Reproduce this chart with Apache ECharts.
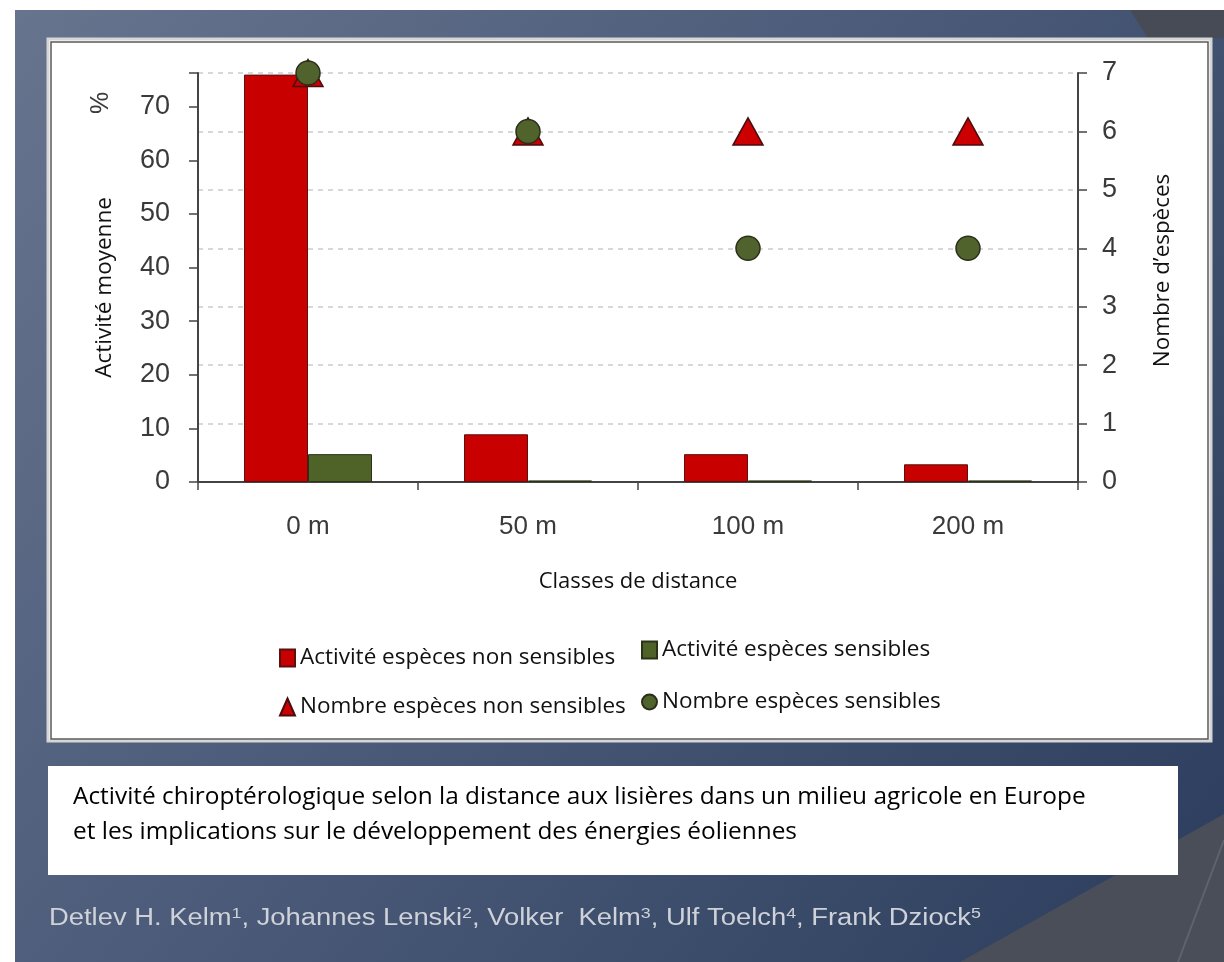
<!DOCTYPE html>
<html>
<head>
<meta charset="utf-8">
<script src="https://cdn.jsdelivr.net/npm/echarts@6/dist/echarts.min.js"></script>
<style>
html,body{margin:0;padding:0;background:#fff;}
#chart{width:1224px;height:962px;}
</style>
</head>
<body>
<div id="chart"></div>
<script>
// ---- data ----
const categories = ['0 m', '50 m', '100 m', '200 m'];
const activiteNonSensibles = [76, 8.9, 5.2, 3.3];
const activiteSensibles = [5.2, 0.3, 0.3, 0.3];
const nombreNonSensibles = [7, 6, 6, 6];
const nombreSensibles = [7, 6, 4, 4];
const seriesNames = ['Activité espèces non sensibles', 'Activité espèces sensibles', 'Nombre espèces non sensibles', 'Nombre espèces sensibles'];
const leftAxisMax = 76.3;
const rightAxisMax = 7;
const captionLines = ['Activité chiroptérologique selon la distance aux lisières dans un milieu agricole en Europe', 'et les implications sur le développement des énergies éoliennes'];
const authors = 'Detlev H. Kelm{s|1}, Johannes Lenski{s|2}, Volker  Kelm{s|3}, Ulf Toelch{s|4}, Frank Dziock{s|5}';

const chart = echarts.init(document.getElementById('chart'), null, {renderer: 'canvas'});

const labelFont = 'Liberation Sans, Arial, sans-serif';
const humanFont = 'Open Sans, Noto Sans, sans-serif';

const legendCommon = {
  padding: 0, itemWidth: 15, itemHeight: 17, itemGap: 0, selectedMode: false,
  textStyle: {fontFamily: humanFont, fontSize: 22.5, color: '#111', lineHeight: 26}
};

const option = {
  animation: false,
  backgroundColor: '#ffffff',
  graphic: {elements: [
    {type: 'rect', z: -30, silent: true, shape: {x: 15, y: 10, width: 1209, height: 952},
      style: {fill: new echarts.graphic.LinearGradient(0, 0, 1, 1, [
        {offset: 0, color: '#67748e'}, {offset: 0.45, color: '#4b5b79'}, {offset: 1, color: '#2c3c5c'}])}},
    {type: 'polygon', z: -29, silent: true, shape: {points: [[1130, 10], [1224, 10], [1224, 38], [1148, 38]]},
      style: {fill: '#474b55'}},
    {type: 'polygon', z: -29, silent: true, shape: {points: [[1224, 814], [1160, 850], [1060, 906], [960, 962], [1224, 962]]},
      style: {fill: '#4a4e58'}},
    {type: 'line', z: -28, silent: true, shape: {x1: 1224, y1: 840, x2: 1178, y2: 962},
      style: {stroke: '#5e636d', lineWidth: 2}},
    // chart panel
    {type: 'rect', z: -25, silent: true, shape: {x: 48, y: 39, width: 1163, height: 702},
      style: {fill: '#ffffff', stroke: '#d6d6d6', lineWidth: 3}},
    {type: 'rect', z: -24, silent: true, shape: {x: 51, y: 42, width: 1157, height: 697},
      style: {fill: '#ffffff', stroke: '#5a5a5a', lineWidth: 1.5}},
    // % sign
    {type: 'text', z: 5, silent: true, x: 101, y: 103, rotation: Math.PI / 2,
      style: {text: '%', font: '25px ' + labelFont, fill: '#3a3a3a', align: 'center', verticalAlign: 'middle', textAlign: 'center', textVerticalAlign: 'middle'}},
    // caption box
    {type: 'rect', z: -20, silent: true, shape: {x: 48, y: 766, width: 1130, height: 109},
      style: {fill: '#ffffff'}},
    {type: 'text', z: 5, silent: true, x: 73, y: 797,
      style: {text: captionLines[0], font: '24.4px ' + humanFont, fill: '#000', align: 'left', verticalAlign: 'middle', textAlign: 'left', textVerticalAlign: 'middle'}},
    {type: 'text', z: 5, silent: true, x: 73, y: 832,
      style: {text: captionLines[1], font: '24.4px ' + humanFont, fill: '#000', align: 'left', verticalAlign: 'middle', textAlign: 'left', textVerticalAlign: 'middle'}},
    // authors
    {type: 'text', z: 5, silent: true, x: 49, y: 919, scaleX: 1.19,
      style: {text: authors, fontFamily: labelFont, fontSize: 23, fill: '#cfd2d8', align: 'left', verticalAlign: 'middle', textAlign: 'left', textVerticalAlign: 'middle',
        rich: {s: {fontFamily: labelFont, fontSize: 15, fill: '#cfd2d8', verticalAlign: 'top', padding: [0, 0, 10, 0]}}}}
  ]},
  legend: [
    Object.assign({}, legendCommon, {data: [{name: seriesNames[0], icon: 'rect'}], left: 279, top: 645}),
    Object.assign({}, legendCommon, {data: [{name: seriesNames[1], icon: 'rect'}], left: 641, top: 637}),
    Object.assign({}, legendCommon, {data: [{name: seriesNames[2], icon: 'triangle'}], left: 279, top: 694}),
    Object.assign({}, legendCommon, {data: [{name: seriesNames[3], icon: 'circle'}], left: 641, top: 689})
  ],
  grid: {left: 198, right: 146, top: 73, bottom: 480, containLabel: false},
  xAxis: {
    type: 'category', data: categories, boundaryGap: true,
    axisLine: {show: true, lineStyle: {color: '#444', width: 2}},
    axisTick: {show: true, length: 8, lineStyle: {color: '#444', width: 1.5}},
    axisLabel: {fontFamily: labelFont, fontSize: 26, color: '#3a3a3a', margin: 32},
    name: 'Classes de distance', nameLocation: 'middle', nameGap: 89,
    nameTextStyle: {fontFamily: humanFont, fontSize: 22, color: '#111'}
  },
  yAxis: [
    {
      type: 'value', position: 'left', min: 0, max: leftAxisMax, interval: 10,
      axisLine: {show: true, lineStyle: {color: '#444', width: 2}},
      axisTick: {show: true, length: 9, lineStyle: {color: '#444', width: 1.5}},
      axisLabel: {fontFamily: labelFont, fontSize: 27, color: '#3a3a3a', margin: 28,
        formatter: function (v) { return Math.abs(v % 10) < 1e-6 ? String(v) : ''; }},
      splitLine: {show: false},
      name: 'Activité moyenne', nameLocation: 'middle', nameRotate: 90, nameGap: 82,
      nameTextStyle: {fontFamily: humanFont, fontSize: 22.5, color: '#111', padding: [0, 0, 0, -20]}
    },
    {
      type: 'value', position: 'right', min: 0, max: rightAxisMax, interval: 1,
      axisLine: {show: true, lineStyle: {color: '#444', width: 2}},
      axisTick: {show: true, length: 9, lineStyle: {color: '#444', width: 1.5}},
      axisLabel: {fontFamily: labelFont, fontSize: 27, color: '#3a3a3a', margin: 24},
      splitLine: {show: true, lineStyle: {type: [5, 5], color: '#cbcbcb', width: 1.5}},
      name: 'Nombre d’espèces', nameLocation: 'middle', nameRotate: 90, nameGap: 74,
      nameTextStyle: {fontFamily: humanFont, fontSize: 22.4, color: '#111', padding: [0, 0, 0, 14]}
    }
  ],
  series: [
    {name: seriesNames[0], type: 'bar', yAxisIndex: 0, data: activiteNonSensibles, barWidth: 64, barGap: '0%',
      itemStyle: {color: '#c80000', borderColor: '#5c1010', borderWidth: 1}},
    {name: seriesNames[1], type: 'bar', yAxisIndex: 0, data: activiteSensibles, barWidth: 64, barGap: '0%',
      itemStyle: {color: '#4f6228', borderColor: '#2a3316', borderWidth: 1}},
    {name: seriesNames[2], type: 'scatter', yAxisIndex: 1, data: nombreNonSensibles, symbol: 'triangle', symbolSize: [30, 27], z: 3,
      itemStyle: {color: '#cc0000', borderColor: '#4a0c0c', borderWidth: 1.5, opacity: 1}},
    {name: seriesNames[3], type: 'scatter', yAxisIndex: 1, data: nombreSensibles, symbol: 'circle', symbolSize: 24, z: 4,
      itemStyle: {color: '#50632c', borderColor: '#2a2f1a', borderWidth: 1.5, opacity: 1}}
  ]
};
chart.setOption(option);
</script>
</body>
</html>
